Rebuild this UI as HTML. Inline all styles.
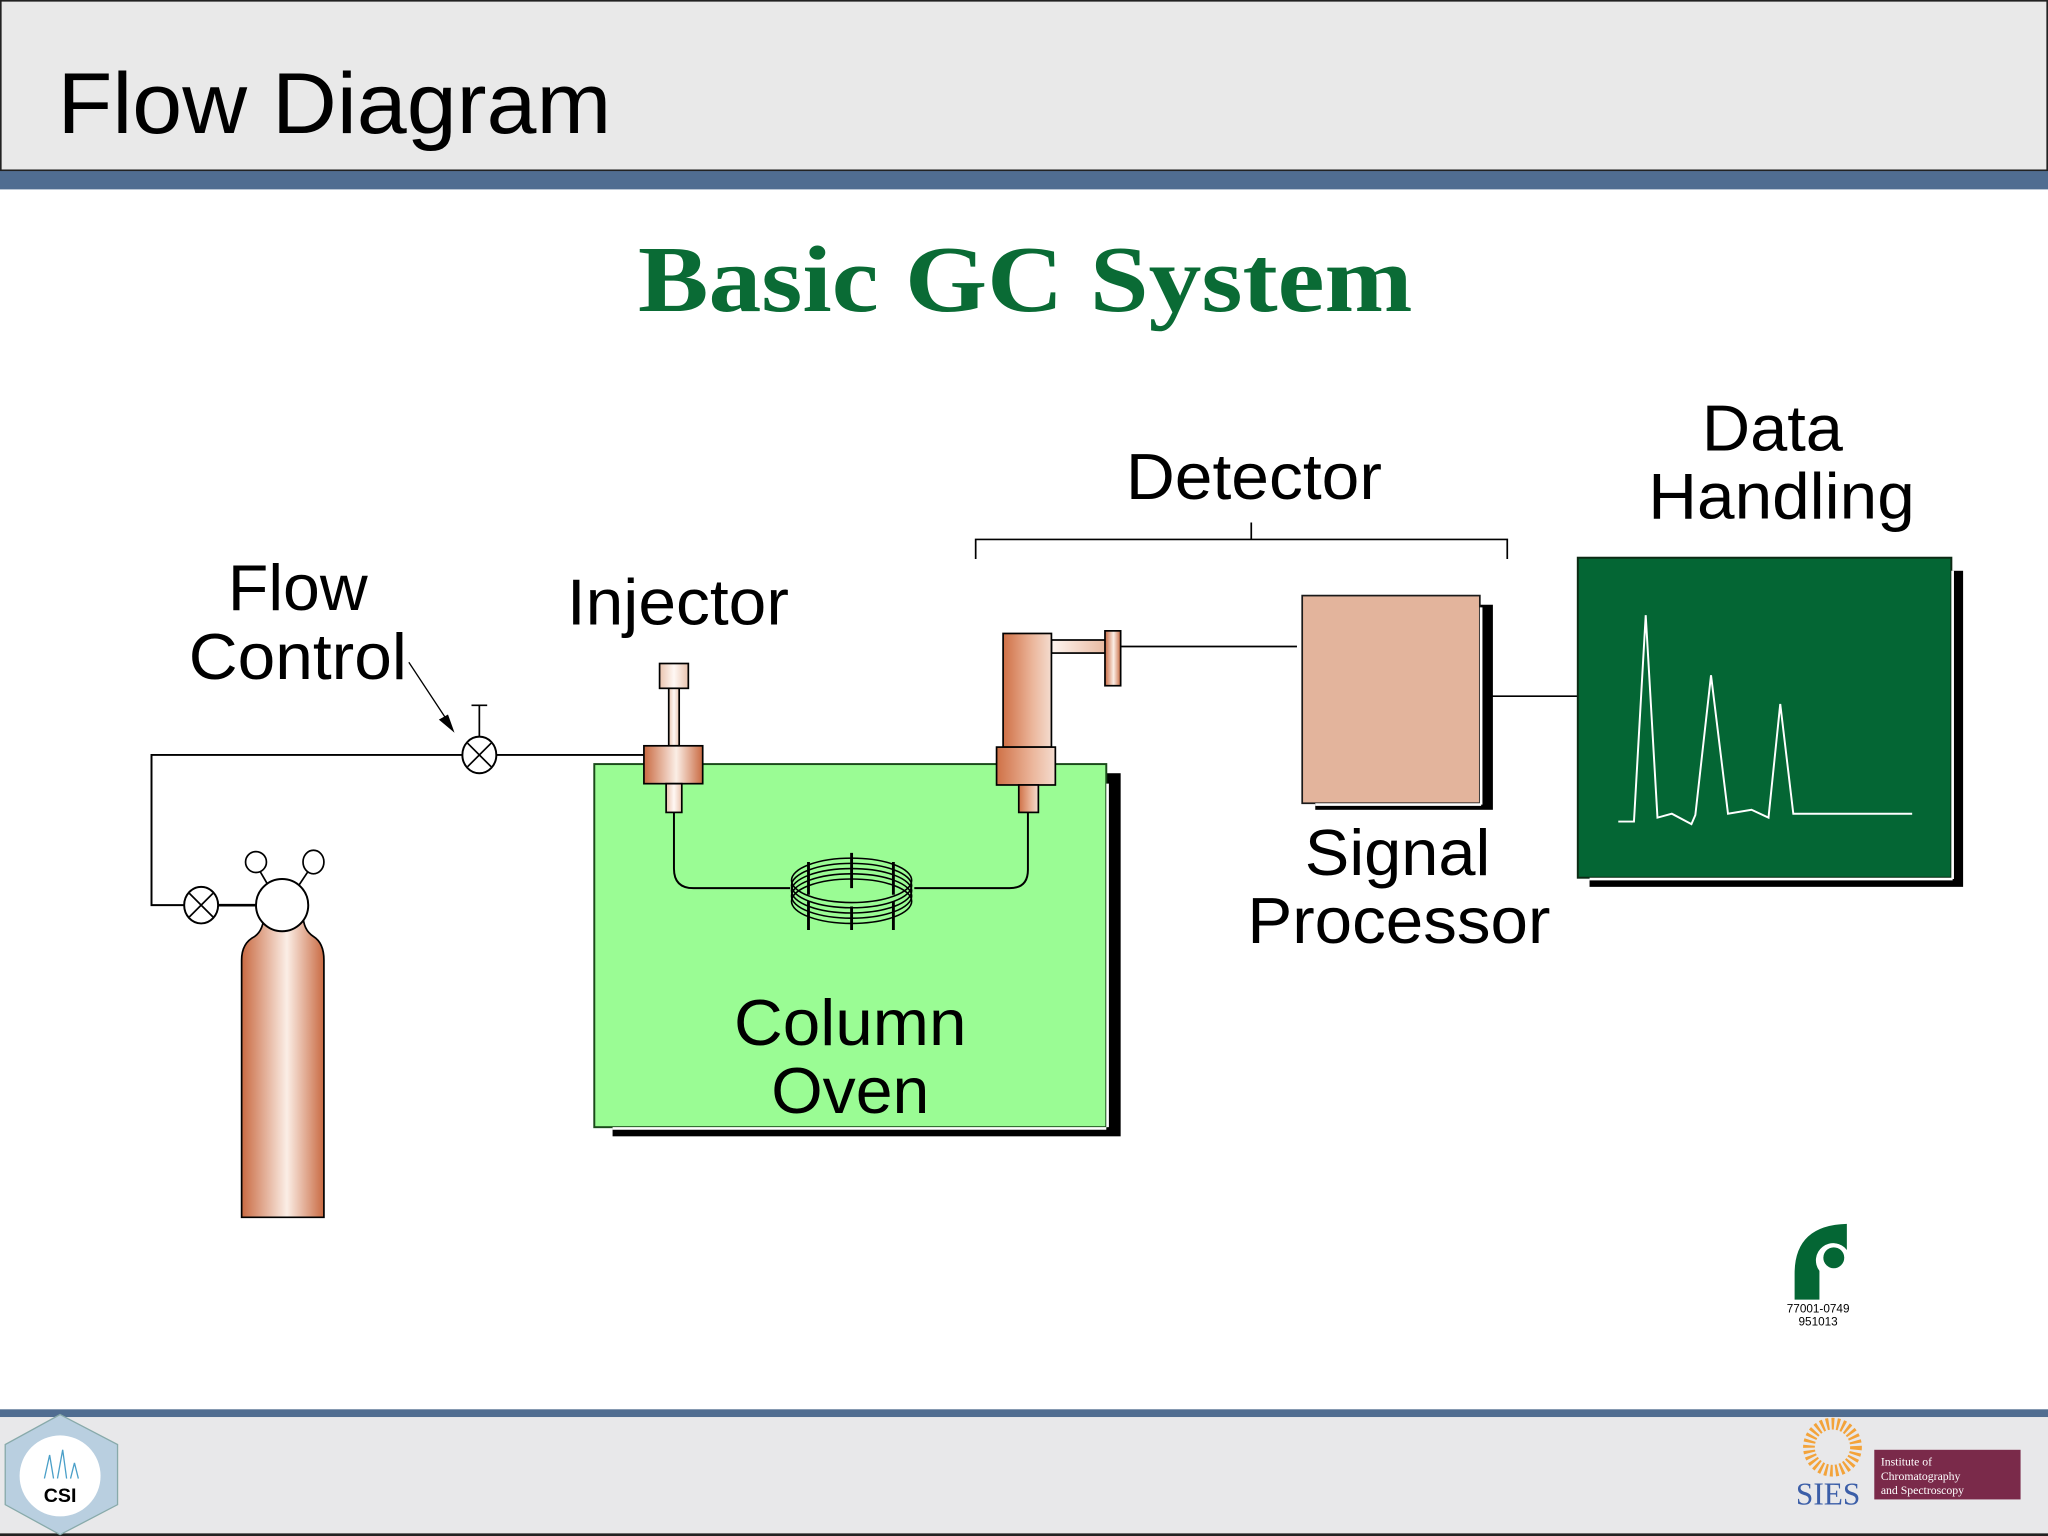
<!DOCTYPE html>
<html><head><meta charset="utf-8"><style>
html,body{margin:0;padding:0;background:#fff;}
svg{display:block;}
text{font-family:"Liberation Sans",Arial,sans-serif;}
</style></head><body>
<svg width="2048" height="1536" viewBox="0 0 1568 1176" xmlns="http://www.w3.org/2000/svg">
<defs>
<linearGradient id="cu" x1="0" x2="1" y1="0" y2="0">
<stop offset="0" stop-color="#c96a42"/><stop offset="0.55" stop-color="#fbeee6"/><stop offset="1" stop-color="#c96a42"/>
</linearGradient>
<linearGradient id="cu2" x1="0" x2="1" y1="0" y2="0">
<stop offset="0" stop-color="#cf7046"/><stop offset="0.6" stop-color="#ebb59a"/><stop offset="1" stop-color="#f4dccf"/>
</linearGradient>
<linearGradient id="lt" x1="0" x2="1" y1="0" y2="0">
<stop offset="0" stop-color="#e9c3ae"/><stop offset="0.5" stop-color="#fff8f4"/><stop offset="1" stop-color="#e9c3ae"/>
</linearGradient>
<linearGradient id="lth" x1="0" x2="1" y1="0" y2="0">
<stop offset="0" stop-color="#fff6f1"/><stop offset="1" stop-color="#e8b9a0"/>
</linearGradient>
</defs>
<!-- header -->
<rect x="0.5" y="0.5" width="1567" height="130" fill="#e9e9e9" stroke="#222" stroke-width="1.5"/>
<rect x="0" y="131" width="1568" height="14" fill="#506d91"/>
<text x="44" y="102" font-size="66" textLength="424" lengthAdjust="spacingAndGlyphs" fill="#000">Flow Diagram</text>
<text x="785" y="238" font-size="72" font-weight="bold" text-anchor="middle" fill="#0a6b35" style="font-family:'Liberation Serif',serif" textLength="593" lengthAdjust="spacingAndGlyphs">Basic GC System</text>
<!-- footer -->
<rect x="0" y="1079" width="1568" height="6" fill="#506d91"/>
<rect x="0" y="1085" width="1568" height="91" fill="#e8e8ea"/>
<line x1="0" y1="1175" x2="1568" y2="1175" stroke="#222" stroke-width="2"/>
<polygon points="46,1083 90,1106 90,1152 46,1175 4,1152 4,1106" fill="#b9cfe0" stroke="#8aa" stroke-width="1"/>
<circle cx="46" cy="1130" r="31" fill="#fff"/>
<text x="46" y="1150" font-size="15" font-weight="bold" text-anchor="middle">CSI</text>
<path d="M34,1132 L38,1114 L41,1132 M44,1132 L48,1110 L51,1132 M54,1132 L57,1120 L60,1132" stroke="#4a9fc8" fill="none"/>
<circle cx="1403" cy="1108" r="18" fill="none" stroke="#f3a33a" stroke-width="9" stroke-dasharray="2 2"/>
<text x="1375" y="1152" font-size="24" fill="#3b5ea8" style="font-family:'Liberation Serif',serif">SIES</text>
<rect x="1435" y="1110" width="112" height="38" fill="#7a2a4a"/>
<text x="1440" y="1122" font-size="9" fill="#fff" style="font-family:'Liberation Serif',serif">Institute of</text>
<text x="1440" y="1133" font-size="9" fill="#fff" style="font-family:'Liberation Serif',serif">Chromatography</text>
<text x="1440" y="1144" font-size="9" fill="#fff" style="font-family:'Liberation Serif',serif">and Spectroscopy</text>

<!-- bracket -->
<path d="M747,428 V413 H1154 V428 M958,413 V400" fill="none" stroke="#000" stroke-width="1.3"/>

<!-- gas lines -->
<path d="M141,693 H116 V578 H355 M380,578 H493" fill="none" stroke="#000" stroke-width="1.5"/>
<line x1="167" y1="693" x2="197" y2="693" stroke="#000" stroke-width="2"/>
<g fill="#fff" stroke="#000" stroke-width="1.5">
<ellipse cx="154" cy="693" rx="13" ry="14"/>
<ellipse cx="367" cy="578" rx="13" ry="14"/>
</g>
<path d="M145,684 L163,702 M163,684 L145,702 M358,569 L376,587 M376,569 L358,587 M367,564 V540 M361,540 H373" stroke="#000" stroke-width="1.3" fill="none"/>
<line x1="313" y1="507" x2="344" y2="554" stroke="#000" stroke-width="1"/>
<polygon points="348,561 336,551 343,547" fill="#000"/>

<!-- cylinder -->
<path d="M185,932 V735 Q185,722 195,717 Q202,712 202,700 H232 Q232,712 240,717 Q248,722 248,735 V932 Z" fill="url(#cu)" stroke="#000" stroke-width="1.3"/>
<line x1="206" y1="679" x2="199" y2="667" stroke="#000" stroke-width="1.3"/>
<line x1="228" y1="679" x2="236" y2="667" stroke="#000" stroke-width="1.3"/>
<ellipse cx="196" cy="660" rx="8" ry="8" fill="#fff" stroke="#000" stroke-width="1.3"/>
<ellipse cx="240" cy="660" rx="8" ry="9" fill="#fff" stroke="#000" stroke-width="1.3"/>
<ellipse cx="216" cy="693" rx="20" ry="20" fill="#fff" stroke="#000" stroke-width="1.5"/>

<!-- oven -->
<rect x="469" y="592" width="389" height="278" fill="#000"/>
<rect x="455" y="585" width="392" height="278" fill="#9afc94" stroke="#1a4a1a" stroke-width="1.5"/>
<line x1="848" y1="600" x2="848" y2="863" stroke="#fff" stroke-width="2"/>
<line x1="469" y1="864" x2="847" y2="864" stroke="#fff" stroke-width="2"/>

<path d="M516,622 V665 Q516,680 531,680 H605 M700,680 H773 Q787,680 787,666 V622" fill="none" stroke="#000" stroke-width="1.5"/>
<g fill="none" stroke="#000" stroke-width="1.2">
<ellipse cx="652" cy="674" rx="46" ry="17"/>
<ellipse cx="652" cy="678" rx="46" ry="17"/>
<ellipse cx="652" cy="682" rx="46" ry="17"/>
<ellipse cx="652" cy="686" rx="46" ry="17"/>
<ellipse cx="652" cy="690" rx="46" ry="17"/>
</g>
<path d="M619,660 V685 M652,653 V680 M684,660 V685 M619,690 V712 M652,694 V712 M684,690 V712" stroke="#000" stroke-width="2.2"/>

<!-- injector -->
<rect x="505" y="508" width="22" height="19" fill="url(#lt)" stroke="#000" stroke-width="1.3"/>
<rect x="512" y="527" width="8" height="44" fill="url(#lt)" stroke="#000" stroke-width="1.3"/>
<rect x="493" y="571" width="45" height="29" fill="url(#cu)" stroke="#000" stroke-width="1.3"/>
<rect x="510" y="600" width="12" height="22" fill="url(#lt)" stroke="#000" stroke-width="1.3"/>

<!-- detector -->
<rect x="805" y="490" width="42" height="10" fill="url(#lth)" stroke="#000" stroke-width="1.3"/>
<rect x="846" y="483" width="12" height="42" fill="url(#cu)" stroke="#000" stroke-width="1.3"/>
<rect x="768" y="485" width="37" height="87" fill="url(#cu2)" stroke="#000" stroke-width="1.3"/>
<rect x="763" y="572" width="45" height="29" fill="url(#cu2)" stroke="#000" stroke-width="1.3"/>
<rect x="780" y="601" width="15" height="21" fill="url(#cu2)" stroke="#000" stroke-width="1.3"/>
<line x1="858" y1="495" x2="993" y2="495" stroke="#000" stroke-width="1.3"/>

<!-- signal processor -->
<rect x="1007" y="463" width="136" height="157" fill="#000"/>
<rect x="997" y="456" width="136" height="159" fill="#e3b49c" stroke="#1a1a1a" stroke-width="1.3"/>
<line x1="1134" y1="465" x2="1134" y2="616" stroke="#fff" stroke-width="2"/>
<line x1="1007" y1="616" x2="1134" y2="616" stroke="#fff" stroke-width="2"/>
<line x1="1138" y1="533" x2="1208" y2="533" stroke="#000" stroke-width="1.3"/>

<!-- data handling -->
<rect x="1217" y="437" width="286" height="242" fill="#000"/>
<rect x="1208" y="427" width="286" height="245" fill="#046634" stroke="#0c2a14" stroke-width="1.5"/>
<line x1="1495" y1="437" x2="1495" y2="673" stroke="#fff" stroke-width="2"/>
<line x1="1217" y1="673" x2="1495" y2="673" stroke="#fff" stroke-width="2"/>
<polyline points="1239,629 1251,629 1260,471 1269,626 1280,623 1295,631 1298,624 1310,517 1323,623 1341,620 1354,626 1363,539 1373,623 1464,623" fill="none" stroke="#fff" stroke-width="1.5"/>

<!-- logo -->
<path d="M1374,995 V975 Q1374,938 1414,937 V957 A10,10 0 0 0 1393,973 V995 Z" fill="#046634"/>
<circle cx="1404" cy="963" r="11" fill="#fff"/>
<circle cx="1404" cy="963" r="8" fill="#046634"/>
<text x="1392" y="1005" font-size="9" text-anchor="middle">77001-0749</text>
<text x="1392" y="1015" font-size="9" text-anchor="middle">951013</text>

<!-- labels -->
<g font-size="50" fill="#000" text-anchor="middle">
<text x="960" y="382" textLength="196" lengthAdjust="spacingAndGlyphs">Detector</text>
<text x="1357" y="345" textLength="108" lengthAdjust="spacingAndGlyphs">Data</text>
<text x="1364" y="397" textLength="204" lengthAdjust="spacingAndGlyphs">Handling</text>
<text x="228" y="467" textLength="107" lengthAdjust="spacingAndGlyphs">Flow</text>
<text x="228" y="520" textLength="167" lengthAdjust="spacingAndGlyphs">Control</text>
<text x="519" y="478" textLength="170" lengthAdjust="spacingAndGlyphs">Injector</text>
<text x="1070" y="670" textLength="142" lengthAdjust="spacingAndGlyphs">Signal</text>
<text x="1071" y="722" textLength="232" lengthAdjust="spacingAndGlyphs">Processor</text>
<text x="651" y="800" textLength="178" lengthAdjust="spacingAndGlyphs">Column</text>
<text x="651" y="852" textLength="121" lengthAdjust="spacingAndGlyphs">Oven</text>
</g>
</svg>
</body></html>
